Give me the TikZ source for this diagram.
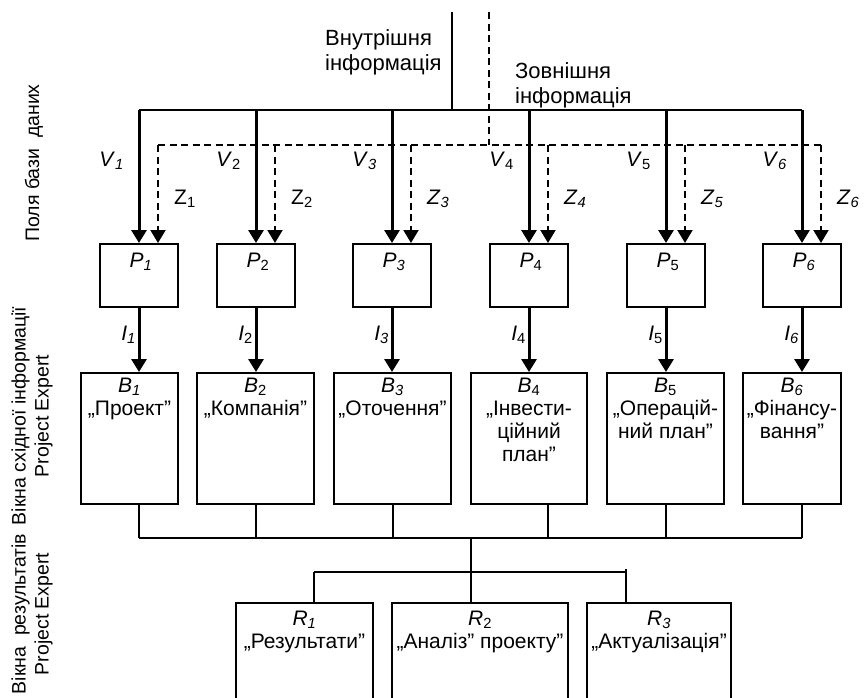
\documentclass[tikz,border=0pt]{standalone}
\usepackage{fontspec}
\setmainfont{Liberation Sans}
\usetikzlibrary{arrows.meta,positioning}
\newcommand{\sbl}[2]{\textit{#1}\textsubscript{#2}}

\begin{document}
\begin{tikzpicture}[x=1pt,y=-1pt,inner sep=0pt,
  font=\fontsize{21}{23}\selectfont,
  box/.style={draw,line width=2pt},
  wire/.style={line width=2pt},
  feed/.style={-{Triangle[width=15pt,length=13pt]},line width=3pt},
  extfeed/.style={-{Triangle[width=15pt,length=13pt]},line width=2pt,
                  dash pattern=on 7pt off 4.5pt},
  extwire/.style={line width=2pt,dash pattern=on 7pt off 4.5pt},
  head/.style={anchor=north,align=center,inner sep=0pt},
  side/.style={rotate=90,align=center,font=\fontsize{19.5}{23}\selectfont},
  source/.style={anchor=north west,align=left,font=\fontsize{22}{25}\selectfont}]
  \useasboundingbox (0,0) rectangle (866,697);
  \clip (0,0) rectangle (866,697);

  % level labels
  \node[side] (fieldlbl) at (34,163) {Поля бази\ \ даних};
  \node[side] (inlbl) at (32,416) {Вікна східної інформації\\Project Expert};
  \node[side] (outlbl) at (32,614) {Вікна\ \ результатів\\Project Expert};

  % sources
  \coordinate (intop) at (452,12);
  \coordinate (vbus) at (452,110);
  \coordinate (extop) at (489,12);
  \coordinate (zbus) at (489,145);
  \node[source] (intlbl) at (325,29) {Внутрішня\\інформація};
  \node[source] (extlbl) at (515,62) {Зовнішня\\інформація};

  % database fields
  \foreach \i/\x/\s in {1/139/\textit{1},2/256/2,3/392/\textit{3},
                        4/529/4,5/666/5,6/802/\textit{6}}{
    \node[box,minimum width=78pt,minimum height=63pt,
          label={[head,yshift=-10pt,xshift=2pt]north:\sbl{P}{\s}}] (p\i) at (\x,275.5) {};
    \coordinate (z\i) at (\x+19,145);
    \node[anchor=base east] (vl\i) at (\x-15,166) {\sbl{V}{\s}};
    \node[anchor=base east] (il\i) at (\x-3,340) {\sbl{I}{\s}};
  }

  % input windows
  \foreach \i/\x/\w/\t in {1/129.5/97/{\sbl{B}{\textit{1}}\\„Проект”},
      2/255.5/117/{\sbl{B}{2}\\„Компанія”},
      3/392.5/117/{\sbl{B}{\textit{3}}\\„Оточення”},
      4/529/116/{\sbl{B}{4}\\„Інвести-\\ційний\\план”},
      5/665.5/117/{\sbl{B}{5}\\„Операцій-\\ний план”},
      6/792/98/{\sbl{B}{\textit{6}}\\„Фінансу-\\вання”}}{
    \node[box,minimum width=\w pt,minimum height=131pt,
          label={[head,yshift=-6pt]north:{\t}}] (b\i) at (\x,438.5) {};
  }

  % result windows
  \foreach \i/\x/\w/\t in {1/304.5/137/{\sbl{R}{\textit{1}}\\„Результати”},
      2/480/176/{\sbl{R}{2}\\„Аналіз” проекту”},
      3/659/144/{\sbl{R}{\textit{3}}\\„Актуалізація”}}{
    \node[box,minimum width=\w pt,minimum height=130pt,
          label={[head,yshift=-9pt]north:{\t}}] (r\i) at (\x,668) {};
  }

  % internal and external information
  \draw[wire] (intop) -- (vbus);
  \draw[wire] (p1 |- vbus) -- (p6 |- vbus);
  \draw[extwire] (extop) -- (zbus);
  \draw[extwire] (z1) -- (z6);
  \foreach \i in {1,...,6}{
    \draw[feed] (p\i |- vbus) -- (p\i.north);
    \draw[extfeed] (z\i) -- (z\i |- p\i.north);
    \draw[feed] (p\i.south) -- (p\i.south |- b\i.north);
  }
  \foreach \i/\t in {1/{Z\textsubscript{1}},2/{Z\textsubscript{2}},
                     3/{\sbl{Z}{\textit{3}}},4/{\sbl{Z}{\textit{4}}},
                     5/{\sbl{Z}{\textit{5}}},6/{\sbl{Z}{\textit{6}}}}
    \node[anchor=base west,xshift=16pt,yshift=-59pt] (zl\i) at (z\i) {\t};

  % collecting lines
  \foreach \i/\x in {1/139,2/256,3/393,4/548,5/666,6/802}{
    \coordinate (bb\i) at (\x,538);
    \draw[wire] (b\i.south -| bb\i) -- (bb\i);
  }
  \draw[wire] (bb1) -- (bb6);
  \coordinate (rb1) at (314,572);
  \coordinate (rb2) at (471,572);
  \coordinate (rb3) at (626,572);
  \draw[wire] (rb2 |- bb1) -- (rb2);
  \draw[wire] (rb1) -- (rb3);
  \draw[wire] (rb1) -- (rb1 |- r1.north);
  \draw[wire] (rb2) -- (rb2 |- r2.north);
  \draw[wire] ([yshift=3pt]rb3) -- (rb3 |- r3.north);
\end{tikzpicture}
\end{document}
